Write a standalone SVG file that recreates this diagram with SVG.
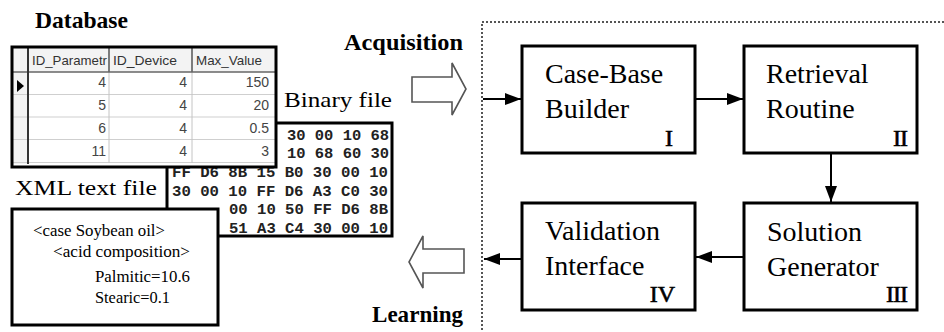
<svg xmlns="http://www.w3.org/2000/svg" width="944" height="332" viewBox="0 0 944 332">
<defs>
<style>
.ser{font-family:"Liberation Serif","Times New Roman",serif;fill:#000}
.lbl{font-size:28px}
.rom{font-size:24px;text-anchor:end;stroke:#000;stroke-width:0.6}
.ttl{font-size:23px;font-weight:bold}
.cap{font-size:22px}
.xml{font-size:16px}
.tbh{font-family:"Liberation Sans",Arial,sans-serif;font-size:13px;fill:#333}
.tbv{font-family:"Liberation Sans",Arial,sans-serif;font-size:14px;fill:#444;text-anchor:end}
.hex{font-family:"Liberation Mono","DejaVu Sans Mono",monospace;font-weight:bold;font-size:14px;fill:#222}
.box{fill:#fff;stroke:#000;stroke-width:3}
.hollow{fill:#fff;stroke:#555;stroke-width:1.6;stroke-linejoin:miter}
.conn{stroke:#000;stroke-width:2;fill:none;marker-end:url(#ah)}
.grid{stroke:#cfcfcf;stroke-width:1}
</style>
<marker id="ah" markerUnits="userSpaceOnUse" markerWidth="16" markerHeight="12" refX="16" refY="6" orient="auto">
<path d="M0,0 L16,6 L0,12 z" fill="#000"/>
</marker>
</defs>
<rect width="944" height="332" fill="#fff"/>

<!-- dotted frame -->
<path d="M944,22 H482 V332" fill="none" stroke="#555" stroke-width="2" stroke-dasharray="2,2"/>

<!-- Database label -->
<text class="ser ttl" x="35" y="28" textLength="93" lengthAdjust="spacingAndGlyphs">Database</text>

<!-- Binary file -->
<g id="binary-file">
<text class="ser cap" x="284" y="107" textLength="108" lengthAdjust="spacingAndGlyphs">Binary file</text>
<rect class="box" x="167" y="123" width="225" height="113"/>
<text class="hex" x="287" y="140" textLength="102" lengthAdjust="spacingAndGlyphs">30 00 10 68</text>
<text class="hex" x="287" y="158" textLength="102" lengthAdjust="spacingAndGlyphs">10 68 60 30</text>
<text class="hex" x="172" y="177" textLength="216" lengthAdjust="spacingAndGlyphs">FF D6 8B 15 B0 30 00 10</text>
<text class="hex" x="172" y="196" textLength="216" lengthAdjust="spacingAndGlyphs">30 00 10 FF D6 A3 C0 30</text>
<text class="hex" x="229" y="214" textLength="159" lengthAdjust="spacingAndGlyphs">00 10 50 FF D6 8B</text>
<text class="hex" x="229" y="233" textLength="159" lengthAdjust="spacingAndGlyphs">51 A3 C4 30 00 10</text>
</g>

<!-- Database table -->
<g id="database-table">
<rect x="12" y="47" width="264" height="120" fill="#fff"/>
<rect x="12" y="47" width="264" height="25" fill="#f3f3f3"/>
<rect x="12" y="72" width="16" height="92" fill="#f3f3f3"/>
<line class="grid" x1="12" y1="94.5" x2="276" y2="94.5"/>
<line class="grid" x1="12" y1="117" x2="276" y2="117"/>
<line class="grid" x1="12" y1="139.5" x2="276" y2="139.5"/>
<line class="grid" x1="12" y1="162.5" x2="276" y2="162.5"/>
<line x1="109" y1="72" x2="109" y2="163" stroke="#c4c4c4"/>
<line x1="192" y1="72" x2="192" y2="163" stroke="#c4c4c4"/>
<line x1="109" y1="47" x2="109" y2="72" stroke="#555" stroke-width="1.5"/>
<line x1="192" y1="47" x2="192" y2="72" stroke="#555" stroke-width="1.5"/>
<line x1="12" y1="72" x2="276" y2="72" stroke="#666" stroke-width="1.5"/>
<line x1="28" y1="47" x2="28" y2="164" stroke="#333" stroke-width="2"/>
<rect x="12" y="47" width="264" height="120" fill="none" stroke="#000" stroke-width="3"/>
<path d="M17,80 L24,86 L17,92 z" fill="#000"/>
<text class="tbh" x="32" y="65" textLength="75" lengthAdjust="spacingAndGlyphs">ID_Parametr</text>
<text class="tbh" x="113" y="65" textLength="64" lengthAdjust="spacingAndGlyphs">ID_Device</text>
<text class="tbh" x="196" y="65" textLength="66" lengthAdjust="spacingAndGlyphs">Max_Value</text>
<text class="tbv" x="106" y="87">4</text>
<text class="tbv" x="187" y="87">4</text>
<text class="tbv" x="269" y="87">150</text>
<text class="tbv" x="106" y="110">5</text>
<text class="tbv" x="187" y="110">4</text>
<text class="tbv" x="269" y="110">20</text>
<text class="tbv" x="106" y="133">6</text>
<text class="tbv" x="187" y="133">4</text>
<text class="tbv" x="269" y="133">0.5</text>
<text class="tbv" x="106" y="156">11</text>
<text class="tbv" x="187" y="156">4</text>
<text class="tbv" x="269" y="156">3</text>
</g>

<!-- XML text file -->
<g id="xml-file">
<text class="ser cap" x="15" y="195" textLength="142" lengthAdjust="spacingAndGlyphs">XML text file</text>
<rect class="box" x="12" y="209" width="206" height="116"/>
<text class="ser xml" x="33" y="236" textLength="132" lengthAdjust="spacingAndGlyphs">&lt;case Soybean oil&gt;</text>
<text class="ser xml" x="53" y="257" textLength="137" lengthAdjust="spacingAndGlyphs">&lt;acid composition&gt;</text>
<text class="ser xml" x="95" y="282" textLength="95" lengthAdjust="spacingAndGlyphs">Palmitic=10.6</text>
<text class="ser xml" x="95" y="303" textLength="75" lengthAdjust="spacingAndGlyphs">Stearic=0.1</text>
</g>

<!-- Acquisition / Learning -->
<g id="acquisition">
<text class="ser ttl" x="344" y="50" textLength="119" lengthAdjust="spacingAndGlyphs">Acquisition</text>
<path class="hollow" d="M412,77 H452 V63 L466,89 L452,115 V102 H412 z"/>
</g>
<g id="learning">
<path class="hollow" d="M464,249 H423 V236 L409,262 L423,288 V273 H464 z"/>
<text class="ser ttl" x="372" y="322" textLength="91" lengthAdjust="spacingAndGlyphs">Learning</text>
</g>

<!-- Nodes -->
<g id="case-base-builder">
<rect class="box" x="522" y="46" width="173" height="107"/>
<text class="ser lbl" x="545" y="83">Case-Base</text>
<text class="ser lbl" x="545" y="118">Builder</text>
<text class="ser rom" x="673" y="146">I</text>
</g>
<g id="retrieval-routine">
<rect class="box" x="744" y="46" width="173" height="107"/>
<text class="ser lbl" x="766" y="83">Retrieval</text>
<text class="ser lbl" x="766" y="118">Routine</text>
<text class="ser rom" x="907" y="146" letter-spacing="-1">II</text>
</g>
<g id="solution-generator">
<rect class="box" x="744" y="203" width="173" height="107"/>
<text class="ser lbl" x="767" y="241">Solution</text>
<text class="ser lbl" x="767" y="276">Generator</text>
<text class="ser rom" x="907" y="302" letter-spacing="-1">III</text>
</g>
<g id="validation-interface">
<rect class="box" x="522" y="203" width="173" height="107"/>
<text class="ser lbl" x="545" y="240">Validation</text>
<text class="ser lbl" x="545" y="275">Interface</text>
<text class="ser rom" x="675" y="302">IV</text>
</g>

<!-- Connectors -->
<g id="connectors">
<line class="conn" x1="483" y1="99" x2="521" y2="99"/>
<line class="conn" x1="696" y1="99" x2="743" y2="99"/>
<line class="conn" x1="831" y1="154" x2="831" y2="202"/>
<line class="conn" x1="743" y1="257" x2="696" y2="257"/>
<line class="conn" x1="521" y1="259" x2="484" y2="259"/>
</g>
</svg>
